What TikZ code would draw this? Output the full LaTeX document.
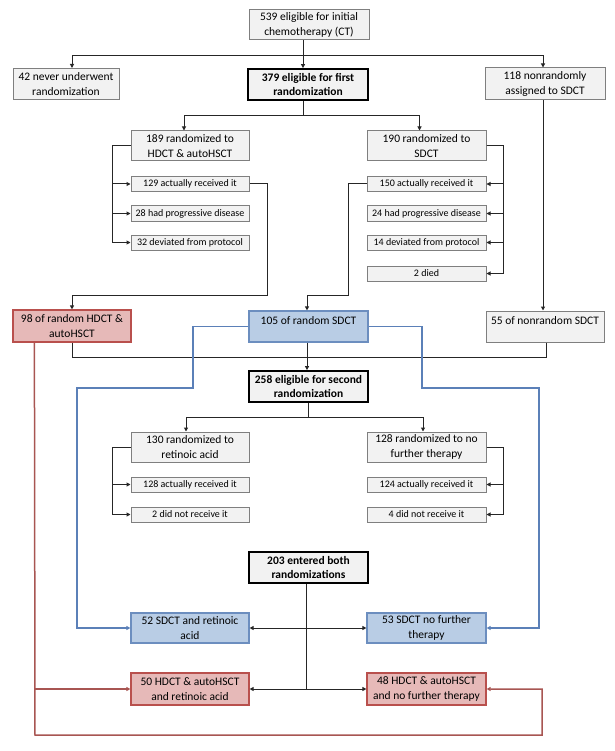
\documentclass[tikz,border=0pt]{standalone}
\usepackage{fontspec}
\setmainfont{Carlito}
\usetikzlibrary{arrows.meta,calc}
\definecolor{boxfill}{HTML}{F2F2F2}
\definecolor{boxline}{HTML}{7F7F7F}
\definecolor{redfill}{HTML}{E6B9B8}
\definecolor{redline}{HTML}{B9504D}
\definecolor{redconn}{HTML}{A85552}
\definecolor{bluefill}{HTML}{B9CDE5}
\definecolor{blueline}{HTML}{6C8EBF}
\definecolor{blueconn}{HTML}{5B80B8}
\definecolor{conncol}{HTML}{262626}
\tikzset{
  x=1pt, y=-1pt,
  basebox/.style={draw, rectangle, inner sep=0pt, align=center, line width=1pt},
  bigbox/.style={basebox, draw=boxline, fill=boxfill, font=\fontsize{11.5}{14.5}\selectfont},
  smallbox/.style={basebox, draw=boxline, fill=boxfill, minimum width=118pt, minimum height=15pt, font=\fontsize{10}{12}\selectfont},
  boldbox/.style={basebox, draw=black, line width=1.8pt, fill=boxfill, font=\bfseries\fontsize{11.5}{14.5}\selectfont},
  redbox/.style={basebox, draw=redline, line width=1.2pt, fill=redfill, font=\fontsize{11.5}{14.5}\selectfont},
  bluebox/.style={basebox, draw=blueline, line width=1.2pt, fill=bluefill, font=\fontsize{11.5}{14.5}\selectfont},
  conn/.style={draw=conncol, line width=1pt},
  arr/.style={conn, -{Triangle[length=4pt,width=4pt]}},
  barr/.style={draw=blueconn, line width=1.5pt, -{Triangle[length=4pt,width=4pt]}},
  rarr/.style={draw=redconn, line width=1.5pt, -{Triangle[length=4pt,width=4pt]}},
  rline/.style={draw=redconn, line width=1.5pt},
}
\begin{document}
\begin{tikzpicture}
\useasboundingbox (0,0) rectangle (614,751);
% ---- nodes ----
\node[bigbox, minimum width=120pt, minimum height=30pt] (top) at (309,25) {539 eligible for initial\\chemotherapy (CT)};
\node[bigbox, minimum width=106pt, minimum height=31pt] (never) at (66,84) {42 never underwent\\randomization};
\node[boldbox, minimum width=120pt, minimum height=31pt] (first) at (308,84.5) {379 eligible for first\\randomization};
\node[bigbox, minimum width=120pt, minimum height=32pt] (nonrand) at (545,84) {118 nonrandomly\\assigned to SDCT};

\node[bigbox, minimum width=118pt, minimum height=30pt] (r189) at (190,146) {189 randomized to\\HDCT \& autoHSCT};
\node[smallbox] (a129) at (190,184) {129 actually received it};
\node[smallbox] (p28) at (190,213.5) {28 had progressive disease};
\node[smallbox] (d32) at (190,242.5) {32 deviated from protocol};

\node[bigbox, minimum width=119pt, minimum height=30pt] (r190) at (426.5,146) {190 randomized to\\SDCT};
\node[smallbox, minimum width=119pt] (a150) at (426.5,184) {150 actually received it};
\node[smallbox, minimum width=119pt] (p24) at (426.5,213.5) {24 had progressive disease};
\node[smallbox, minimum width=119pt] (d14) at (426.5,242.5) {14 deviated from protocol};
\node[smallbox, minimum width=119pt] (died) at (426.5,273.5) {2 died};

\node[redbox, minimum width=118pt, minimum height=32pt] (h98) at (72,326) {98 of random HDCT \&\\autoHSCT};
\node[bluebox, minimum width=119pt, minimum height=31pt, text depth=12pt] (s105) at (308.5,326.5) {105 of random SDCT};
\node[bigbox, minimum width=118pt, minimum height=31pt, text depth=12pt] (n55) at (545,326.5) {55 of nonrandom SDCT};

\node[boldbox, minimum width=119pt, minimum height=31pt] (second) at (308.5,386.5) {258 eligible for second\\randomization};

\node[bigbox, minimum width=118pt, minimum height=30pt] (r130) at (190,447) {130 randomized to\\retinoic acid};
\node[smallbox] (a128) at (190,484.5) {128 actually received it};
\node[smallbox] (dn2) at (190,514.5) {2 did not receive it};
\node[bigbox, minimum width=119pt, minimum height=30pt] (r128) at (426.5,447) {128 randomized to no\\further therapy};
\node[smallbox, minimum width=119pt] (a124) at (426.5,484.5) {124 actually received it};
\node[smallbox, minimum width=119pt] (dn4) at (426.5,514.5) {4 did not receive it};

\node[boldbox, minimum width=119pt, minimum height=31pt] (both) at (308.5,567.5) {203 entered both\\randomizations};

\node[bluebox, minimum width=118pt, minimum height=30pt] (sr52) at (190,628) {52 SDCT and retinoic\\acid};
\node[bluebox, minimum width=119pt, minimum height=30pt] (sn53) at (426.5,628) {53 SDCT no further\\therapy};
\node[redbox, minimum width=118pt, minimum height=32pt] (hr50) at (190,689) {50 HDCT \& autoHSCT\\and retinoic acid};
\node[redbox, minimum width=119pt, minimum height=32pt] (hn48) at (426.5,689) {48 HDCT \& autoHSCT\\and no further therapy};

% ---- black connectors ----
\coordinate (t1) at (303,56);
\draw[conn] (top.south -| t1) -- (t1);
\draw[arr] (t1) -| ([xshift=6pt]never.north);
\draw[arr] (t1) -- (first.north -| t1);
\draw[arr] (t1) -| ([xshift=-2pt]nonrand.north);

\coordinate (t2) at (303,116);
\draw[conn] (first.south -| t2) -- (t2);
\draw[arr] (t2) -| ([xshift=-6pt]r189.north);
\draw[arr] (t2) -| ([xshift=-7pt]r190.north);

\draw[arr] (r189.west) -- ++(-18,0) |- (a129.west);
\draw[arr] (r189.west) -- ++(-18,0) |- (p28.west);
\draw[arr] (r189.west) -- ++(-18,0) |- (d32.west);

\draw[arr] (r190.east) -- ++(17,0) |- (a150.east);
\draw[arr] (r190.east) -- ++(17,0) |- (p24.east);
\draw[arr] (r190.east) -- ++(17,0) |- (d14.east);
\draw[arr] (r190.east) -- ++(17,0) |- (died.east);

\coordinate (c98) at (72,295);
\draw[arr] (a129.east) -- ++(18,0) |- (c98) -- (h98.north);
\coordinate (c105) at (307,295);
\draw[arr] (a150.west) -- ++(-18,0) |- (c105) -- (s105.north -| c105);

\draw[arr] ([xshift=-2pt]nonrand.south) -- ([xshift=-2pt]n55.north);

\coordinate (c2) at (307,357);
\draw[conn] (h98.south) |- (c2);
\draw[conn] ([xshift=1pt]n55.south) |- (c2);
\draw[arr] (s105.south -| c2) -- (second.north -| c2);

\coordinate (c3) at (308,417);
\draw[conn] (second.south -| c3) -- (c3);
\draw[arr] (c3) -| ([xshift=-4pt]r130.north);
\draw[arr] (c3) -| ([xshift=-3.5pt]r128.north);

\draw[arr] (r130.west) -- ++(-18,0) |- (a128.west);
\draw[arr] (r130.west) -- ++(-18,0) |- (dn2.west);
\draw[arr] (r128.east) -- ++(17,0) |- (a124.east);
\draw[arr] (r128.east) -- ++(17,0) |- (dn4.east);

\coordinate (c4) at (306,628);
\coordinate (c5) at (306,689);
\draw[conn] (both.south -| c4) -- (c5);
\draw[arr] (c4) -- (sr52.east);
\draw[arr] (c4) -- (sn53.west);
\draw[arr] (c5) -- (hr50.east);
\draw[arr] (c5) -- (hn48.west);

% ---- blue connectors ----
\coordinate (bl1) at (193,388);
\coordinate (bl2) at (77,388);
\draw[barr] (s105.west) -| (bl1) -- (bl2) |- (sr52.west);
\coordinate (br1) at (422,388);
\coordinate (br2) at (539,388);
\draw[barr] (s105.east) -| (br1) -- (br2) |- (sn53.east);

% ---- red connectors ----
\coordinate (rj) at (35,689);
\coordinate (rd1) at (35,735);
\coordinate (rd2) at (542,735);
\draw[rarr] ([xshift=22pt]h98.south west) -- (rd1) -- (rd2) |- (hn48.east);
\draw[rarr] (rj) -- (hr50.west);
\end{tikzpicture}
\end{document}
